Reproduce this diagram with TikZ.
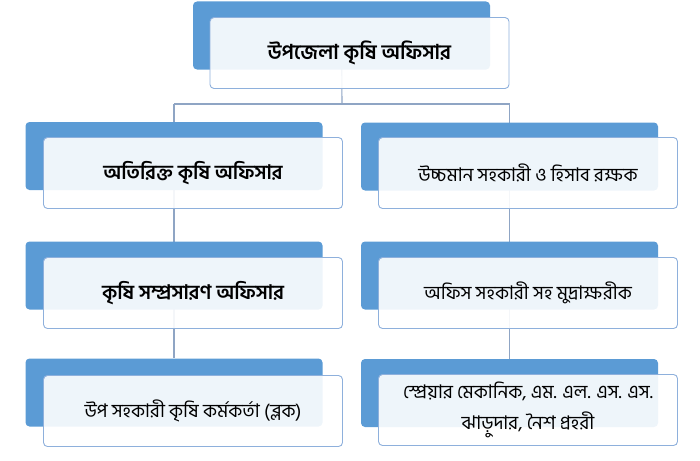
\documentclass[tikz,border=0pt]{standalone}
\usepackage{fontspec}
\newfontfamily\bn[Script=Bengali]{Hind Siliguri}
\usetikzlibrary{backgrounds}
\definecolor{backblue}{HTML}{5B9BD5}
\definecolor{frontedge}{HTML}{8EB0DC}
\definecolor{linkcol}{HTML}{8FA5C4}
\tikzset{
  backbox/.style={draw=none, fill=backblue, rounded corners=4pt, minimum width=297pt, minimum height=68pt, inner sep=0pt},
  frontbox/.style={draw=frontedge, line width=0.9pt, fill=white, fill opacity=0.9, text opacity=1, rounded corners=4pt, minimum width=299pt, minimum height=71pt, inner sep=0pt, align=center, font=\bn\fontsize{18.8}{31}\selectfont},
  boldtext/.style={font=\bn\bfseries\fontsize{20}{26}\selectfont},
  toptext/.style={font=\bn\bfseries\fontsize{20.5}{26}\selectfont},
  link/.style={draw=linkcol, line width=1.1pt}
}
\begin{document}
\begin{tikzpicture}[x=1pt,y=-1pt]
\useasboundingbox (0,0) rectangle (700,460);
% back tabs
\node[backbox] (tb)  at (341.5,35.5) {};
\node[backbox] (lb1) at (174,156) {};
\node[backbox] (rb1) at (509.5,156.5) {};
\node[backbox] (lb2) at (174,275.5) {};
\node[backbox] (rb2) at (509.5,275.5) {};
\node[backbox] (lb3) at (174,392.5) {};
\node[backbox] (rb3) at (509.5,393) {};
% front boxes
\node[frontbox,toptext] (tf)  at (359.5,53) {উপজেলা কৃষি অফিসার};
\node[frontbox,boldtext] (lf1) at (193,173) {অতিরিক্ত কৃষি অফিসার};
\node[frontbox] (rf1) at (528,173) {উচ্চমান সহকারী ও হিসাব রক্ষক};
\node[frontbox,boldtext] (lf2) at (193,293) {কৃষি সম্প্রসারণ অফিসার};
\node[frontbox] (rf2) at (528,293) {অফিস সহকারী সহ মুদ্রাক্ষরীক};
\node[frontbox] (lf3) at (193,411) {উপ সহকারী কৃষি কর্মকর্তা (ব্লক)};
\node[frontbox] (rf3) at (528,410) {স্প্রেয়ার মেকানিক, এম. এল. এস. এস.\\ঝাড়ুদার, নৈশ প্রহরী};
\coordinate (hub) at (342,104);
\begin{scope}[on background layer]
\draw[link] (tb.center) -- (hub);
\draw[link] (lb3.north |- hub) -- (rb3.north |- hub);
\draw[link] (lb3.north |- hub) -- (lb3.north);
\draw[link] (rb3.north |- hub) -- (rb3.north);
\end{scope}
\end{tikzpicture}
\end{document}
